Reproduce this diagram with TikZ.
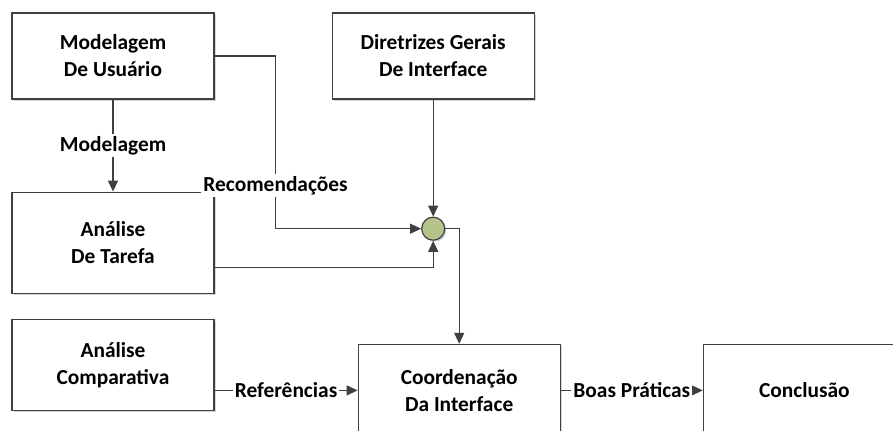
\documentclass[tikz,border=0pt]{standalone}
\usepackage{fontspec}
\setmainfont{Carlito}
\usetikzlibrary{arrows.meta,positioning,shadows}
\definecolor{FlowLine}{HTML}{404040}
\definecolor{FlowShadow}{HTML}{D4D4D4}
\definecolor{FlowGreen}{HTML}{B4C48A}

\begin{document}
\begin{tikzpicture}[node distance=12.5pt,
    box/.style={draw=FlowLine,line width=0.6pt,fill=white,minimum width=101pt,minimum height=43pt,inner sep=0pt,align=center,
      font=\bfseries\fontsize{10.7}{13.5}\selectfont,
      drop shadow={shadow xshift=1pt,shadow yshift=-1pt,fill=FlowShadow,opacity=1}},
    conn/.style={-{Triangle[length=5.5pt,width=5pt]},FlowLine,line width=0.65pt},
    lbl/.style={fill=white,text=black,inner sep=1pt,font=\bfseries\fontsize{10.7}{13.5}\selectfont}]
    \useasboundingbox (0,0) rectangle (446.5pt,-215.5pt);
    \node[box] (user) at (56.5pt,-28pt) {Modelagem\\De Usuário};
    \node[box,right=58.5pt of user] (guide) {Diretrizes Gerais\\De Interface};
    \node[box,minimum height=50.5pt,below=46pt of user] (task) {Análise\\De Tarefa};
    \node[box,minimum height=45.5pt,below=of task] (compare) {Análise\\Comparativa};
    \node[box,minimum height=46pt,below right=12.5pt and 71.5pt of compare.north east] (coord) {Coordenação\\Da Interface};
    \node[box,minimum height=46pt,right=71pt of coord] (end) {Conclusão};
    \node[circle,draw=FlowLine,line width=0.6pt,fill=FlowGreen,minimum size=11.5pt,inner sep=0pt,below=58.5pt of guide,
      drop shadow={shadow xshift=0.8pt,shadow yshift=-0.8pt,fill=FlowShadow,opacity=1}] (join) {};
    \draw[conn] (user) -- node[lbl]{Modelagem} (task);
    \draw[conn] (user.east) -- ++(30.5pt,0) |- node[lbl,pos=0.375]{Recomendações} (join.west);
    \draw[conn] ([yshift=-12.25pt]task.east) -| (join.south);
    \draw[conn] (guide) -- (join);
    \draw[conn] (join.east) -| (coord.north);
    \draw[conn] (compare.east |- coord.west) -- node[lbl]{Referências} (coord.west);
    \draw[conn] (coord) -- node[lbl]{Boas Práticas} (end);
  \end{tikzpicture}
\end{document}
